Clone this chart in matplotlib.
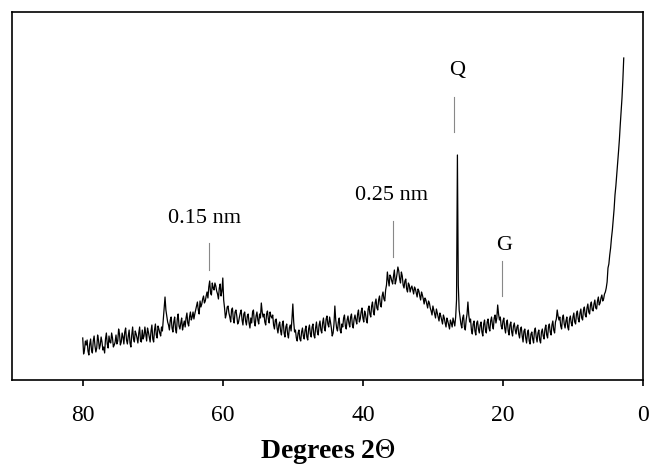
#PATRON DE DIFRACCION DE RAYOS X
#grafica del difractograma con eje 2theta invertido
import numpy as np # funciones numericas
import matplotlib
matplotlib.use("Agg")
import matplotlib.pyplot as plt # funciones para representacion grafica

#DATOS (intensidad)
#puntos cada 0.25 grados desde 80 hasta 2.75
angulo_ini = 80.0
paso = 0.25

tramo_80_60 = [42, 30, 35, 29, 36, 30, 39, 34, 32, 40, 35, 38, 33, 41, 36, 44,
               37, 42, 35, 45, 39, 46, 38, 43, 48, 40, 44, 37, 45, 41, 49, 42,
               47, 39, 50, 44, 46, 52, 43, 49, 41, 50, 45, 54, 47, 53, 60, 83,
               64, 55, 60, 52, 58, 51, 61, 54, 57, 50, 59, 62, 57, 63, 60, 68,
               66, 74, 70, 79, 76, 84, 79, 88, 93, 87, 97, 90, 94, 86, 92, 84]
tramo_60_40 = [102, 72, 66, 74, 63, 70, 61, 68, 64, 58, 67, 60, 66, 59, 64, 57,
               62, 68, 58, 64, 60, 66, 77, 63, 58, 66, 61, 68, 62, 55, 60, 52,
               55, 49, 56, 47, 53, 46, 52, 49, 76, 48, 42, 47, 41, 48, 44, 50,
               43, 51, 46, 53, 45, 52, 48, 55, 50, 57, 52, 61, 56, 63, 52, 47,
               74, 52, 58, 50, 56, 62, 54, 60, 57, 63, 55, 61, 60, 66, 58, 68]
tramo_40_20 = [62, 69, 60, 71, 66, 74, 68, 77, 72, 80, 75, 84, 81, 90, 108, 94,
               103, 96, 110, 100, 113, 101, 108, 95, 99, 91, 97, 88, 94, 86, 91, 83,
               89, 80, 85, 76, 80, 72, 77, 69, 74, 66, 71, 63, 67, 60, 65, 57,
               62, 55, 60, 53, 58, 63, 225, 70, 56, 62, 53, 60, 78, 58, 50, 56,
               49, 57, 51, 55, 48, 56, 50, 58, 52, 59, 55, 62, 57, 75, 60, 54]
tramo_20_3 = [59, 52, 57, 49, 55, 48, 54, 50, 53, 46, 51, 44, 49, 42, 47, 39,
              46, 41, 49, 43, 47, 40, 48, 44, 51, 45, 53, 48, 55, 50, 58, 70,
              60, 54, 62, 56, 59, 53, 61, 57, 63, 58, 66, 61, 67, 62, 70, 65,
              72, 68, 75, 70, 76, 72, 79, 75, 82, 79, 86, 92, 112, 125, 142, 160,
              185, 205, 228, 255, 282, 322]

#puntos intermedios (a mitad de cada paso) para el ruido del registro
medio_80_60 = [26, 39, 40, 25, 41, 27, 44, 28, 45, 31, 43, 30, 27, 47, 32, 38,
               47, 33, 38, 36, 51, 35, 47, 36, 52, 36, 50, 33, 53, 38, 46, 37,
               53, 38, 41, 53, 39, 48, 38, 55, 38, 56, 42, 51, 44, 49, 72, 70,
               58, 50, 63, 48, 63, 47, 66, 51, 62, 55, 53, 67, 54, 68, 63, 61,
               70, 78, 66, 73, 81, 77, 84, 82, 99, 85, 92, 97, 89, 81, 96, 89]
medio_60_40 = [80, 62, 73, 67, 58, 72, 57, 70, 56, 63, 70, 55, 68, 55, 66, 52,
               57, 70, 54, 68, 56, 62, 68, 66, 55, 69, 57, 64, 65, 51, 61, 47,
               58, 45, 59, 43, 56, 42, 55, 61, 58, 50, 39, 50, 39, 52, 41, 54,
               40, 55, 43, 56, 42, 58, 45, 59, 47, 62, 49, 64, 53, 58, 44, 56,
               60, 49, 62, 47, 53, 65, 51, 64, 53, 66, 52, 65, 56, 70, 61, 72]
medio_40_20 = [58, 66, 57, 74, 63, 78, 65, 81, 70, 84, 73, 88, 79, 95, 100, 105,
               99, 104, 96, 106, 109, 97, 104, 92, 101, 88, 95, 92, 90, 93, 87, 91,
               84, 88, 81, 82, 76, 79, 72, 65, 70, 62, 67, 59, 64, 56, 62, 53,
               59, 51, 57, 62, 54, 80, 95, 63, 52, 65, 50, 66, 65, 61, 46, 59,
               45, 59, 47, 58, 44, 60, 47, 61, 49, 63, 51, 65, 62, 66, 63, 51]
medio_20_3 = [62, 47, 60, 45, 58, 44, 57, 46, 55, 42, 53, 38, 51, 37, 50, 36,
              48, 37, 52, 38, 50, 37, 51, 41, 55, 42, 56, 45, 59, 47, 61, 64,
              63, 51, 65, 52, 63, 50, 64, 54, 67, 56, 69, 58, 71, 60, 73, 63,
              76, 66, 78, 69, 80, 71, 83, 77, 85, 81, 88, 98, 116, 132, 150, 171,
              194, 215, 240, 268, 300]

#etiquetas de los picos
etiquetas = ["0.15 nm", "0.25 nm", "Q", "G"]
etiq_x = [62.6, 35.9, 26.6, 19.8]
etiq_y = [162, 185, 310, 135]
linea_x = [62.0, 35.75, 27.0, 20.1]
linea_y1 = [110, 123, 248, 84]
linea_y2 = [137, 159, 283, 119]

ticks_x = [80, 60, 40, 20, 0]


def difractograma():
    plt.rcParams["mathtext.fontset"] = "stix" #theta con aspecto Times
    #unimos los tramos y metemos los puntos intermedios
    principal = np.array(tramo_80_60 + tramo_60_40 + tramo_40_20 + tramo_20_3)
    medio = np.array(medio_80_60 + medio_60_40 + medio_40_20 + medio_20_3)
    intensidad = np.zeros(len(principal) + len(medio))
    intensidad[0::2] = principal
    intensidad[1::2] = medio
    angulo = angulo_ini - (paso / 2) * np.arange(len(intensidad)) #eje 2theta

    fig = plt.figure(figsize=(6.49, 4.65), dpi=100)
    ax = fig.add_axes([12/649, 85/465, 631/649, 368/465])

    ax.plot(angulo, intensidad, color="black", linewidth=0.9)

    #lineas y textos de los picos
    for i in range(len(etiquetas)):
        ax.plot([linea_x[i], linea_x[i]], [linea_y1[i], linea_y2[i]],
                color="#888888", linewidth=0.8)
        ax.text(etiq_x[i], etiq_y[i], etiquetas[i], ha="center", va="center",
                fontsize=16, family="Liberation Serif")

    ax.set_xlim(90.1, 0) #eje invertido
    ax.set_ylim(0, 368)
    ax.set_xticks(ticks_x)
    ax.set_yticks([])
    ax.tick_params(axis="x", direction="out", length=4, width=1.2, pad=14)
    for lab in ax.get_xticklabels():
        lab.set_family("Liberation Serif")
        lab.set_fontsize(17)
    for s in ax.spines.values():
        s.set_linewidth(1.2)
    ax.set_xlabel(r"Degrees 2$\Theta$", family="Liberation Serif", fontsize=20,
                  fontweight="bold", labelpad=8)

    fig.savefig("out.png", dpi=100)


difractograma()
